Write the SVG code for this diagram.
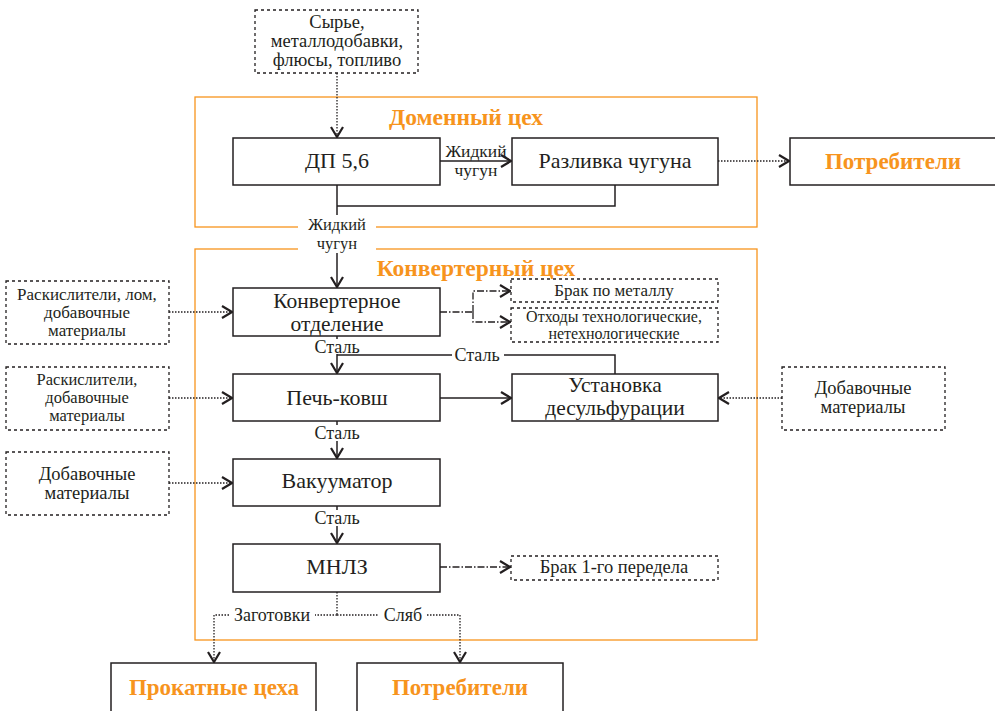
<svg xmlns="http://www.w3.org/2000/svg" width="995" height="711" viewBox="0 0 995 711">
<style>
text{fill:#231f20;text-anchor:middle;font-family:'Liberation Serif',serif}
.box{fill:#fff;stroke:#231f20;stroke-width:1.5}
.dbox{fill:#fff;stroke:#231f20;stroke-width:1.3;stroke-dasharray:3 3}
.frame{fill:none;stroke:#f7941d;stroke-width:1.3}
.title{font-weight:bold;fill:#f7941d}
.sol{fill:none;stroke:#231f20;stroke-width:1.5}
.dot{fill:none;stroke:#231f20;stroke-width:1.3;stroke-dasharray:1.5 1.5}
.dd{fill:none;stroke:#231f20;stroke-width:1.3;stroke-dasharray:7 2 1.5 2}
.lbg{fill:#fff}
</style>
<defs>
<marker id="ah" viewBox="0 0 12 14" refX="11" refY="7" markerWidth="12" markerHeight="14" orient="auto" markerUnits="userSpaceOnUse">
<path d="M1,1 L11,7 L1,13" fill="none" stroke="#231f20" stroke-width="2.2"/>
</marker>
</defs>
<rect width="995" height="711" fill="#fff"/>

<g id="frames">
<rect class="frame" x="195" y="97" width="562" height="130"/>
<rect class="frame" x="195" y="249" width="562" height="391"/>
<text class="title" font-family="Liberation Serif" font-size="23.5" x="466" y="125">Доменный цех</text>
<text class="title" font-family="Liberation Serif" font-size="23.5" x="476" y="276">Конвертерный цех</text>
</g>

<g id="connectors">
<path class="dot" d="M337,73 V137" marker-end="url(#ah)"/>
<path class="sol" d="M440,161 H511" marker-end="url(#ah)"/>
<path class="dot" d="M718,161 H789" marker-end="url(#ah)"/>
<path class="sol" d="M615,185 V206 H337"/>
<path class="sol" d="M337,185 V287" marker-end="url(#ah)"/>
<rect class="lbg" x="298" y="215" width="78" height="38"/>
<text font-family="Liberation Serif" font-size="16.5" x="337" y="230">Жидкий</text>
<text font-family="Liberation Serif" font-size="16.5" x="337" y="249">чугун</text>
<text font-family="Liberation Serif" font-size="17.5" x="476" y="157">Жидкий</text>
<text font-family="Liberation Serif" font-size="17.5" x="476" y="176">чугун</text>

<path class="dot" d="M169,312 H232" marker-end="url(#ah)"/>
<path class="dd" d="M440,312 H473"/>
<path class="dd" d="M473,312 V291 H510" marker-end="url(#ah)"/>
<path class="dd" d="M473,312 V322 H510" marker-end="url(#ah)"/>

<path class="sol" d="M337,336 V373" marker-end="url(#ah)"/>
<path class="sol" d="M615,374 V355 H337"/>
<rect class="lbg" x="312" y="339" width="50" height="15"/>
<text font-family="Liberation Serif" font-size="18" x="337" y="353">Сталь</text>
<rect class="lbg" x="452" y="347" width="52" height="16"/>
<text font-family="Liberation Serif" font-size="18" x="477" y="361">Сталь</text>

<path class="dot" d="M169,398 H232" marker-end="url(#ah)"/>
<path class="sol" d="M440,398 H511" marker-end="url(#ah)"/>
<path class="dot" d="M782,398 H719" marker-end="url(#ah)"/>

<path class="sol" d="M337,421 V458" marker-end="url(#ah)"/>
<rect class="lbg" x="312" y="425" width="50" height="16"/>
<text font-family="Liberation Serif" font-size="18" x="337" y="439">Сталь</text>

<path class="dot" d="M169,483 H232" marker-end="url(#ah)"/>

<path class="sol" d="M337,506 V543" marker-end="url(#ah)"/>
<rect class="lbg" x="312" y="510" width="50" height="16"/>
<text font-family="Liberation Serif" font-size="18" x="337" y="524">Сталь</text>

<path class="dd" d="M440,567 H510" marker-end="url(#ah)"/>

<path class="dot" d="M337,592 V615"/>
<path class="dot" d="M337,615 H214 V662" marker-end="url(#ah)"/>
<path class="dot" d="M337,615 H460 V662" marker-end="url(#ah)"/>
<rect class="lbg" x="229" y="607" width="86" height="17"/>
<text font-family="Liberation Serif" font-size="18" x="272" y="621">Заготовки</text>
<rect class="lbg" x="379" y="607" width="48" height="17"/>
<text font-family="Liberation Serif" font-size="18" x="403" y="621">Сляб</text>
</g>

<g id="n-input">
<rect class="dbox" x="255" y="10" width="163" height="63"/>
<text font-family="Liberation Serif" font-size="18.5" x="337" y="28">Сырье,</text>
<text font-family="Liberation Serif" font-size="18.5" x="337" y="47">металлодобавки,</text>
<text font-family="Liberation Serif" font-size="18.5" x="337" y="66">флюсы, топливо</text>
</g>
<g id="n-dp">
<rect class="box" x="233" y="138" width="207" height="47"/>
<text font-family="Liberation Serif" font-size="22" x="337" y="168">ДП 5,6</text>
</g>
<g id="n-razlivka">
<rect class="box" x="512" y="138" width="206" height="47"/>
<text font-family="Liberation Serif" font-size="22" x="615" y="168">Разливка чугуна</text>
</g>
<g id="n-potr1">
<rect class="box" x="790" y="138" width="210" height="47"/>
<text class="title" font-family="Liberation Serif" font-size="23" x="893" y="169">Потребители</text>
</g>

<g id="n-konv">
<rect class="box" x="233" y="288" width="207" height="48"/>
<text font-family="Liberation Serif" font-size="21.5" x="337" y="308">Конвертерное</text>
<text font-family="Liberation Serif" font-size="21.5" x="337" y="331">отделение</text>
</g>
<g id="n-in1">
<rect class="dbox" x="6" y="281" width="163" height="63"/>
<text font-family="Liberation Serif" font-size="17" x="87" y="300">Раскислители, лом,</text>
<text font-family="Liberation Serif" font-size="17" x="87" y="318">добавочные</text>
<text font-family="Liberation Serif" font-size="17" x="87" y="336">материалы</text>
</g>
<g id="n-brak">
<rect class="dbox" x="511" y="279" width="207" height="23"/>
<text font-family="Liberation Serif" font-size="17" x="614" y="296">Брак по металлу</text>
</g>
<g id="n-othody">
<rect class="dbox" x="511" y="308" width="207" height="34"/>
<text font-family="Liberation Serif" font-size="16" x="614" y="322">Отходы технологические,</text>
<text font-family="Liberation Serif" font-size="16" x="614" y="339">нетехнологические</text>
</g>

<g id="n-pech">
<rect class="box" x="233" y="374" width="207" height="47"/>
<text font-family="Liberation Serif" font-size="22" x="337" y="405">Печь-ковш</text>
</g>
<g id="n-in2">
<rect class="dbox" x="6" y="367" width="163" height="63"/>
<text font-family="Liberation Serif" font-size="16.5" x="87" y="385">Раскислители,</text>
<text font-family="Liberation Serif" font-size="16.5" x="87" y="403">добавочные</text>
<text font-family="Liberation Serif" font-size="16.5" x="87" y="421">материалы</text>
</g>
<g id="n-ustan">
<rect class="box" x="512" y="374" width="206" height="47"/>
<text font-family="Liberation Serif" font-size="21.5" x="615" y="392">Установка</text>
<text font-family="Liberation Serif" font-size="21.5" x="615" y="415">десульфурации</text>
</g>
<g id="n-in-right">
<rect class="dbox" x="782" y="367" width="163" height="63"/>
<text font-family="Liberation Serif" font-size="18.5" x="863" y="394">Добавочные</text>
<text font-family="Liberation Serif" font-size="18.5" x="863" y="413">материалы</text>
</g>

<g id="n-vak">
<rect class="box" x="233" y="459" width="207" height="47"/>
<text font-family="Liberation Serif" font-size="22" x="337" y="488">Вакууматор</text>
</g>
<g id="n-in3">
<rect class="dbox" x="6" y="452" width="163" height="63"/>
<text font-family="Liberation Serif" font-size="18.5" x="87" y="480">Добавочные</text>
<text font-family="Liberation Serif" font-size="18.5" x="87" y="499">материалы</text>
</g>

<g id="n-mnlz">
<rect class="box" x="233" y="544" width="207" height="48"/>
<text font-family="Liberation Serif" font-size="22" x="337" y="574">МНЛЗ</text>
</g>
<g id="n-brak1">
<rect class="dbox" x="511" y="556" width="207" height="24"/>
<text font-family="Liberation Serif" font-size="18.5" x="614" y="573">Брак 1-го передела</text>
</g>

<g id="n-prokat">
<rect class="box" x="111" y="663" width="205" height="60"/>
<text class="title" font-family="Liberation Serif" font-size="23" x="214" y="695">Прокатные цеха</text>
</g>
<g id="n-potr2">
<rect class="box" x="357" y="663" width="206" height="60"/>
<text class="title" font-family="Liberation Serif" font-size="23" x="460" y="695">Потребители</text>
</g>
</svg>
